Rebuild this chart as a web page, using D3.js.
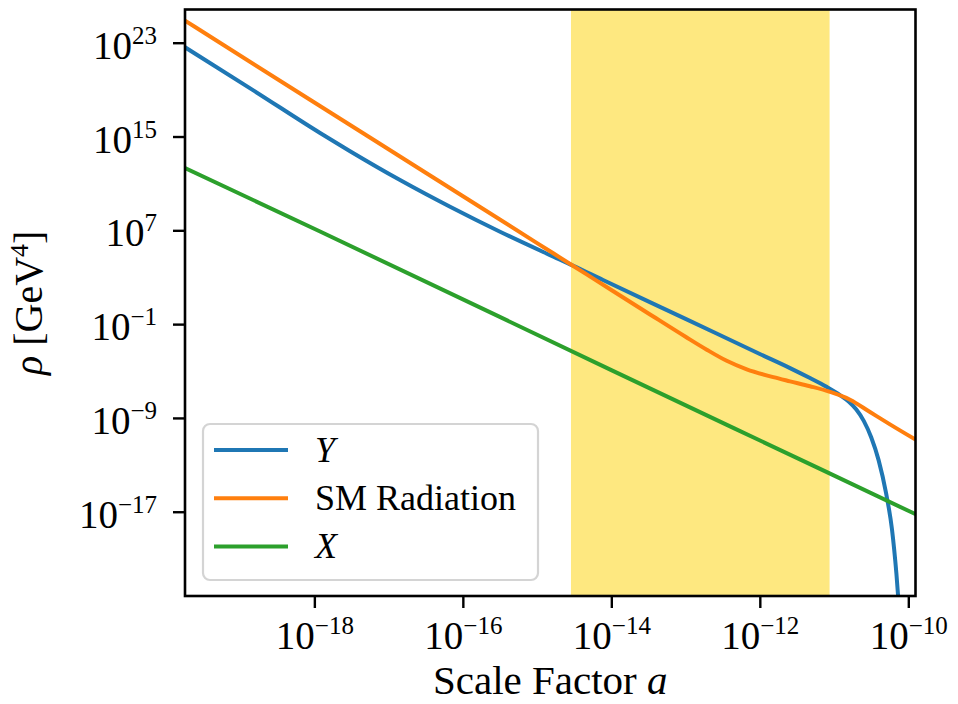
<!DOCTYPE html>
<html>
<head>
<meta charset="utf-8">
<script src="https://cdn.jsdelivr.net/npm/d3@7"></script>
<style>
  body { margin: 0; background: #fff; }
  text { font-family: "Liberation Serif", "DejaVu Serif", serif; fill: #000; }
</style>
</head>
<body>
<div id="chart"></div>
<script>
// exponents (log10)
const yLogA   = [-19.742, -18.8, -17.923, -17.519, -16.846, -16.172, -15.499, -14.826, -14.512, -14.112, -13.0, -12.0, -11.593, -11.324, -11.10, -10.92, -10.80, -10.70, -10.60, -10.50, -10.40, -10.30, -10.22, -10.16, -10.11];
const yLogRho = [22.61, 18.85, 15.30, 13.75, 11.29, 9.01, 6.88, 4.89, 3.98, 2.76, -0.55, -3.55, -4.75, -5.60, -6.35, -7.05, -7.62, -8.28, -9.25, -10.65, -12.6, -15.4, -18.5, -22.3, -26.5];

const smLogA   = [-19.742, -18.058, -16.5, -15.0, -14.512, -14.242, -13.5, -13.0, -12.715, -12.446, -12.176, -11.818, -11.593, -11.324, -11.055, -10.785, -10.516, -10.247, -9.903];
const smLogRho = [24.88, 18.14, 11.91, 5.91, 3.96, 2.88, -0.09, -2.08, -3.18, -4.13, -4.86, -5.52, -5.88, -6.30, -6.78, -7.45, -8.50, -9.55, -10.85];

const xLogA   = [-19.742, -17.923, -14.0, -11.189, -9.903];
const xLogRho = [12.31, 6.90, -4.92, -13.35, -17.21];

const seriesNames  = ["Y", "SM Radiation", "X"];
const seriesColors = ["#1f77b4", "#ff7f0e", "#2ca02c"];
const seriesItalic = [true, false, true];

const bandRange = [2.86e-15, 8.7e-12];

const xDomain = [1.81e-20, 1.25e-10];
const yDomain = [6.5e-25, 6.8e25];
const xTicks = [1e-18, 1e-16, 1e-14, 1e-12, 1e-10];
const xTickExp = ["−18", "−16", "−14", "−12", "−10"];
const yTicks = [1e23, 1e15, 1e7, 1e-1, 1e-9, 1e-17];
const yTickExp = ["23", "15", "7", "−1", "−9", "−17"];

const width = 958, height = 704;
const m = { left: 185, right: 958 - 915.5, top: 9.5, bottom: 704 - 596 };
const iw = width - m.left - m.right, ih = height - m.top - m.bottom;

const svg = d3.select("#chart").append("svg")
  .attr("width", width).attr("height", height);

const g = svg.append("g").attr("transform", `translate(${m.left},${m.top})`);

const x = d3.scaleLog().domain(xDomain).range([0, iw]);
const y = d3.scaleLog().domain(yDomain).range([ih, 0]);

g.append("clipPath").attr("id", "clip")
  .append("rect").attr("width", iw).attr("height", ih);

// shaded region
g.append("rect")
  .attr("x", x(bandRange[0]))
  .attr("width", x(bandRange[1]) - x(bandRange[0]))
  .attr("y", 0).attr("height", ih)
  .attr("fill", "#fee880");

const toPts = (la, lr) => la.map((v, i) => [Math.pow(10, v), Math.pow(10, lr[i])]);
const series = [toPts(yLogA, yLogRho), toPts(smLogA, smLogRho), toPts(xLogA, xLogRho)];

const line = d3.line()
  .x(d => x(d[0])).y(d => y(d[1]))
  .curve(d3.curveMonotoneX);

g.append("g").attr("clip-path", "url(#clip)")
  .selectAll("path").data(series).enter().append("path")
  .attr("d", line)
  .attr("fill", "none")
  .attr("stroke", (d, i) => seriesColors[i])
  .attr("stroke-width", 4)
  .attr("stroke-linejoin", "round");

// axes
const xAxis = g.append("g").attr("transform", `translate(0,${ih})`)
  .call(d3.axisBottom(x).tickValues(xTicks).tickSize(12).tickSizeOuter(0).tickFormat(""));
const yAxis = g.append("g")
  .call(d3.axisLeft(y).tickValues(yTicks).tickSize(12).tickSizeOuter(0).tickFormat(""));

[xAxis, yAxis].forEach(a => {
  a.select(".domain").remove();
  a.selectAll(".tick line").attr("stroke", "#000").attr("stroke-width", 2.4);
  a.selectAll(".tick text").remove();
});

xAxis.selectAll(".tick").each(function(d, i) {
  const t = d3.select(this).append("text")
    .attr("y", 53).attr("text-anchor", "middle").attr("font-size", 39);
  t.append("tspan").text("10");
  t.append("tspan").attr("dy", -15).attr("font-size", 25).text(xTickExp[i]);
});

yAxis.selectAll(".tick").each(function(d, i) {
  const t = d3.select(this).append("text")
    .attr("x", -28).attr("y", 15.6).attr("text-anchor", "end").attr("font-size", 39);
  t.append("tspan").text("10");
  t.append("tspan").attr("dy", -15).attr("font-size", 25).text(yTickExp[i]);
});

// frame
g.append("rect").attr("width", iw).attr("height", ih)
  .attr("fill", "none").attr("stroke", "#000").attr("stroke-width", 2.6);

// axis labels
const xl = svg.append("text")
  .attr("x", m.left + iw / 2).attr("y", 694)
  .attr("text-anchor", "middle").attr("font-size", 41);
xl.append("tspan").text("Scale Factor ");
xl.append("tspan").attr("font-style", "italic").text("a");

const yl = svg.append("text")
  .attr("transform", `translate(42,${m.top + ih / 2}) rotate(-90)`)
  .attr("text-anchor", "middle").attr("font-size", 40);
yl.append("tspan").attr("font-style", "italic").text("ρ");
yl.append("tspan").text(" [GeV");
yl.append("tspan").attr("dy", -14).attr("font-size", 26).text("4");
yl.append("tspan").attr("dy", 14).text("]");

// legend
const lg = svg.append("g").attr("transform", "translate(203,424)");
lg.append("rect")
  .attr("width", 335).attr("height", 156).attr("rx", 7)
  .attr("fill", "#fff").attr("fill-opacity", 0.8)
  .attr("stroke", "#d4d4d4").attr("stroke-width", 2.2);

const items = lg.selectAll("g.item").data(seriesNames).enter().append("g")
  .attr("transform", (d, i) => `translate(0,${26 + i * 48.3})`);
items.append("line")
  .attr("x1", 11).attr("x2", 85)
  .attr("stroke", (d, i) => seriesColors[i]).attr("stroke-width", 4);
items.append("text")
  .attr("x", 112).attr("y", 11.5).attr("font-size", 36)
  .attr("font-style", (d, i) => seriesItalic[i] ? "italic" : "normal")
  .text(d => d);
</script>
</body>
</html>
